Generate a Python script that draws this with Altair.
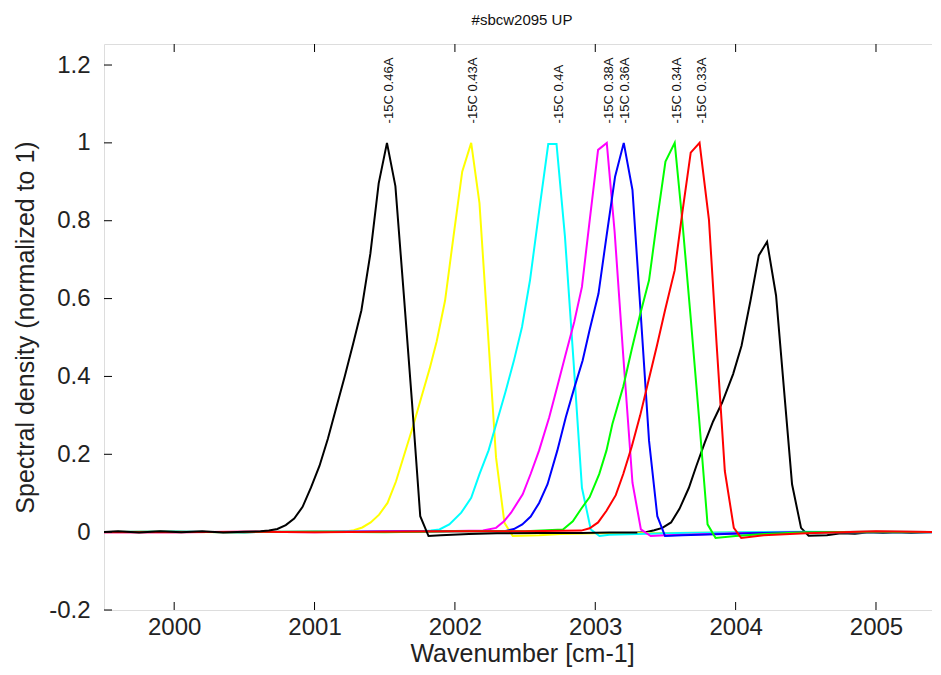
import altair as alt
import pandas as pd

# ---------------- data ----------------
title_text = "#sbcw2095 UP"
x_title = "Wavenumber [cm-1]"
y_title = "Spectral density (normalized to 1)"

x_ticks = [2000, 2001, 2002, 2003, 2004, 2005]
y_ticks = [-0.2, 0, 0.2, 0.4, 0.6, 0.8, 1.0, 1.2]

label_text = ["-15C 0.46A", "-15C 0.43A", "-15C 0.4A", "-15C 0.38A",
              "-15C 0.36A", "-15C 0.34A", "-15C 0.33A"]
label_x = [2001.527, 2002.127, 2002.744, 2003.10, 2003.212, 2003.580, 2003.758]
label_y = [1.05, 1.05, 1.05, 1.05, 1.05, 1.05, 1.05]

yellow_x = [1999.45, 1999.9, 2000.4, 2000.9, 2001.22, 2001.28, 2001.34, 2001.40, 2001.46, 2001.52,
            2001.58, 2001.64, 2001.70, 2001.76, 2001.82, 2001.87, 2001.93, 2001.99, 2002.052, 2002.116,
            2002.175, 2002.234, 2002.293, 2002.353, 2002.412, 2002.47, 2002.6, 2002.75, 2003.0, 2003.5,
            2004.0, 2004.5, 2005.0, 2005.5]
yellow_y = [0.0, 0.001, 0.0, 0.001, 0.002, 0.005, 0.012, 0.025, 0.045, 0.075,
            0.13, 0.2, 0.27, 0.345, 0.42, 0.49, 0.595, 0.76, 0.926, 1.0,
            0.845, 0.52, 0.192, 0.024, -0.01, -0.009, -0.008, -0.005, -0.003, -0.002,
            -0.001, 0.0, 0.0, 0.0]

cyan_x = [1999.45, 2000.0, 2000.5, 2001.0, 2001.5, 2001.77, 2001.83, 2001.89, 2001.96, 2002.045,
          2002.116, 2002.175, 2002.24, 2002.30, 2002.36, 2002.42, 2002.478, 2002.535, 2002.601, 2002.665,
          2002.724, 2002.784, 2002.845, 2002.905, 2002.968, 2003.03, 2003.1, 2003.3, 2003.6, 2004.0,
          2004.5, 2005.0, 2005.5]
cyan_y = [0.0, 0.001, 0.0, 0.001, 0.002, 0.002, 0.004, 0.007, 0.02, 0.05,
          0.088, 0.149, 0.21, 0.285, 0.36, 0.44, 0.527, 0.647, 0.827, 0.997,
          0.997, 0.759, 0.44, 0.114, 0.007, -0.01, -0.007, -0.005, -0.002, 0.0,
          0.001, 0.0, 0.0]

magenta_x = [1999.45, 2000.0, 2000.5, 2001.0, 2001.5, 2002.0, 2002.2, 2002.293, 2002.35, 2002.4,
             2002.483, 2002.54, 2002.6, 2002.672, 2002.73, 2002.79, 2002.85, 2002.905, 2002.96, 2003.02,
             2003.082, 2003.138, 2003.2, 2003.265, 2003.325, 2003.395, 2003.5, 2003.7, 2004.0, 2004.5,
             2005.0, 2005.5]
magenta_y = [0.0, 0.0, 0.001, 0.0, 0.002, 0.003, 0.004, 0.011, 0.028, 0.05,
             0.097, 0.15, 0.21, 0.295, 0.375, 0.458, 0.54, 0.63, 0.8, 0.982,
             1.0, 0.771, 0.45, 0.127, 0.007, -0.01, -0.008, -0.006, -0.003, 0.0,
             0.001, 0.0]

blue_x = [1999.45, 2000.0, 2000.5, 2001.0, 2001.5, 2002.0, 2002.36, 2002.42, 2002.48, 2002.54,
          2002.6, 2002.66, 2002.73, 2002.79, 2002.85, 2002.91, 2002.96, 2003.023, 2003.08, 2003.141,
          2003.203, 2003.265, 2003.324, 2003.383, 2003.442, 2003.497, 2003.62, 2003.8, 2004.1, 2004.5,
          2005.0, 2005.5]
blue_y = [0.0, 0.001, 0.0, 0.001, 0.001, 0.002, 0.003, 0.008, 0.02, 0.04,
          0.075, 0.123, 0.21, 0.295, 0.37, 0.441, 0.52, 0.613, 0.76, 0.913,
          1.0, 0.879, 0.56, 0.235, 0.041, -0.01, -0.008, -0.006, -0.003, 0.0,
          0.0, 0.0]

green_x = [1999.45, 2000.0, 2000.5, 2001.0, 2001.5, 2002.0, 2002.5, 2002.77, 2002.84, 2002.9,
           2002.96, 2003.028, 2003.08, 2003.122, 2003.2, 2003.26, 2003.32, 2003.383, 2003.44, 2003.5,
           2003.566, 2003.62, 2003.68, 2003.74, 2003.80, 2003.857, 2004.0, 2004.2, 2004.5, 2005.0,
           2005.5]
green_y = [0.0, 0.001, 0.0, 0.001, 0.0, 0.002, 0.002, 0.007, 0.028, 0.06,
           0.09, 0.149, 0.21, 0.278, 0.375, 0.47, 0.56, 0.647, 0.8, 0.952,
           1.0, 0.8, 0.55, 0.29, 0.02, -0.015, -0.01, -0.005, 0.0, 0.001,
           0.0]

red_x = [1999.45, 2000.0, 2000.5, 2001.0, 2001.5, 2002.0, 2002.5, 2002.9, 2002.96, 2003.02,
         2003.08, 2003.146, 2003.2, 2003.26, 2003.32, 2003.38, 2003.44, 2003.497, 2003.566, 2003.62,
         2003.68, 2003.743, 2003.81, 2003.865, 2003.923, 2003.987, 2004.04, 2004.2, 2004.5, 2005.0,
         2005.5]
red_y = [0.0, 0.0, 0.001, 0.0, 0.001, 0.002, 0.002, 0.004, 0.01, 0.025,
         0.055, 0.095, 0.15, 0.22, 0.3, 0.39, 0.48, 0.57, 0.673, 0.82,
         0.975, 1.0, 0.802, 0.48, 0.157, 0.011, -0.015, -0.008, -0.003, 0.002,
         0.0]

black1_x = [1999.45, 1999.6, 1999.75, 1999.9, 2000.05, 2000.2, 2000.35, 2000.5, 2000.615, 2000.675,
            2000.735, 2000.795, 2000.855, 2000.915, 2000.975, 2001.035, 2001.095, 2001.155, 2001.215, 2001.275,
            2001.334, 2001.398, 2001.457, 2001.516, 2001.576, 2001.636, 2001.695, 2001.753, 2001.812, 2001.9,
            2002.1, 2002.3, 2002.6, 2002.9, 2003.1, 2003.3]
black1_y = [0.0, 0.002, -0.001, 0.002, 0.0, 0.002, -0.001, 0.001, 0.002, 0.004,
            0.008, 0.018, 0.035, 0.065, 0.115, 0.17, 0.24, 0.32, 0.40, 0.484,
            0.57, 0.716, 0.896, 1.0, 0.889, 0.61, 0.33, 0.041, -0.01, -0.008,
            -0.005, -0.003, -0.002, -0.002, -0.001, -0.001]

black2_x = [2003.3, 2003.36, 2003.42, 2003.478, 2003.54, 2003.6, 2003.667, 2003.72, 2003.78, 2003.84,
            2003.904, 2003.982, 2004.042, 2004.106, 2004.165, 2004.224, 2004.288, 2004.345, 2004.402, 2004.466,
            2004.52, 2004.65, 2004.75, 2004.85, 2004.95, 2005.05, 2005.15, 2005.25, 2005.35, 2005.5]
black2_y = [-0.001, 0.0, 0.005, 0.011, 0.025, 0.06, 0.114, 0.17, 0.23, 0.285,
            0.333, 0.406, 0.479, 0.595, 0.711, 0.746, 0.608, 0.365, 0.123, 0.011,
            -0.009, -0.008, -0.003, -0.004, 0.0, -0.002, 0.0, -0.002, 0.0, 0.002]

# drawing order: first listed is drawn first (underneath)
series = [
    ("black2", "#000000", black2_x, black2_y),
    ("yellow", "#ffff00", yellow_x, yellow_y),
    ("cyan", "#00ffff", cyan_x, cyan_y),
    ("magenta", "#ff00ff", magenta_x, magenta_y),
    ("blue", "#0000ff", blue_x, blue_y),
    ("green", "#00ff00", green_x, green_y),
    ("red", "#ff0000", red_x, red_y),
    ("black1", "#000000", black1_x, black1_y),
]

# ---------------- chart ----------------
FONT = "Liberation Sans, Arial, Helvetica, sans-serif"
W, H = 836, 566
X_DOMAIN = [1999.5, 2005.456]
Y_DOMAIN = [-0.2, 1.254]

xscale = alt.Scale(domain=X_DOMAIN, nice=False, zero=False)
yscale = alt.Scale(domain=Y_DOMAIN, nice=False, zero=False)

x_axis = alt.Axis(values=x_ticks, ticks=False, domain=False, grid=False,
                  labelFontSize=24, labelFont=FONT, labelColor="#222222",
                  labelPadding=5, labelFlush=False, format="d",
                  title=x_title, titleFontSize=25, titleFont=FONT,
                  titleFontWeight="normal", titleColor="#222222", titlePadding=2)
y_axis = alt.Axis(values=y_ticks, ticks=False, domain=False, grid=False,
                  labelFontSize=24, labelFont=FONT, labelColor="#222222",
                  labelPadding=14, labelFlush=False,
                  labelExpr="'' + round(datum.value * 10) / 10",
                  title=y_title, titleFontSize=25, titleFont=FONT,
                  titleFontWeight="normal", titleColor="#222222", titlePadding=10)

X = lambda f: alt.X(f, scale=xscale, axis=x_axis)
Y = lambda f: alt.Y(f, scale=yscale, axis=y_axis)

layers = []
for name, color, xs, ys in series:
    df = pd.DataFrame({"x": xs, "y": ys, "series": name})
    layers.append(alt.Chart(df).mark_line(color=color, strokeWidth=2, clip=True).encode(
        x=X("x:Q"), y=Y("y:Q"), order="x:Q"))

labels_df = pd.DataFrame({"x": label_x, "y": label_y, "text": label_text})
labels = alt.Chart(labels_df).mark_text(
    angle=270, align="left", baseline="middle", fontSize=13, font=FONT, color="#111111"
).encode(x=X("x:Q"), y=Y("y:Q"), text="text:N")

xt = pd.DataFrame({"x": x_ticks})
yt = pd.DataFrame({"y": y_ticks})
TL = 8
tick_bottom = alt.Chart(xt).mark_rule(color="black", strokeWidth=1).encode(
    x=X("x:Q"), y=alt.value(H), y2=alt.value(H - TL))
tick_top = alt.Chart(xt).mark_rule(color="black", strokeWidth=1).encode(
    x=X("x:Q"), y=alt.value(0), y2=alt.value(TL))
tick_left = alt.Chart(yt).mark_rule(color="black", strokeWidth=1).encode(
    y=Y("y:Q"), x=alt.value(0), x2=alt.value(TL))
tick_right = alt.Chart(yt).mark_rule(color="black", strokeWidth=1).encode(
    y=Y("y:Q"), x=alt.value(W - TL), x2=alt.value(W))

chart = alt.layer(*layers, labels, tick_bottom, tick_top, tick_left, tick_right).properties(
    width=W, height=H,
    title=alt.TitleParams(title_text, fontSize=15, font=FONT, fontWeight="normal",
                          color="#111111", anchor="middle", offset=16),
    autosize=alt.AutoSizeParams(type="none"),
    padding={"left": 96, "top": 36, "right": -8, "bottom": 62},
).configure_view(stroke="black", strokeWidth=2).configure(background="white")

chart.save("out.html", embed_options={"renderer": "svg", "actions": False})
